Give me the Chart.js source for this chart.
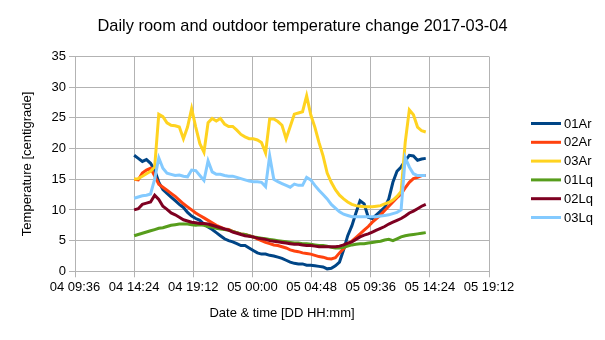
<!DOCTYPE html>
<html>
<head>
<meta charset="utf-8">
<title>Daily room and outdoor temperature change</title>
<script src="https://cdn.jsdelivr.net/npm/chart.js@4.4.1/dist/chart.umd.min.js"></script>
<style>
  body { margin: 0; background: #fff; }
  #wrap { width: 605px; height: 340px; }
</style>
</head>
<body>
<div id="wrap"><canvas id="tempChart"></canvas></div>
<script>
// Measurement times, DD HH:mm
const times = [
    '04 14:24', '04 14:44', '04 15:04', '04 15:24', '04 15:44', '04 16:04', '04 16:24', '04 16:44',
    '04 17:04', '04 17:24', '04 17:44', '04 18:04', '04 18:24', '04 18:44', '04 19:04', '04 19:24',
    '04 19:44', '04 20:04', '04 20:24', '04 20:44', '04 21:04', '04 21:24', '04 21:44', '04 22:04',
    '04 22:24', '04 22:44', '04 23:04', '04 23:24', '04 23:44', '05 00:04', '05 00:24', '05 00:44',
    '05 01:04', '05 01:24', '05 01:44', '05 02:04', '05 02:24', '05 02:44', '05 03:04', '05 03:24',
    '05 03:44', '05 04:04', '05 04:24', '05 04:44', '05 05:04', '05 05:24', '05 05:44', '05 06:04',
    '05 06:24', '05 06:44', '05 07:04', '05 07:24', '05 07:44', '05 08:04', '05 08:24', '05 08:44',
    '05 09:04', '05 09:24', '05 09:44', '05 10:04', '05 10:24', '05 10:44', '05 11:04', '05 11:24',
    '05 11:44', '05 12:04', '05 12:24', '05 12:44', '05 13:04', '05 13:24', '05 13:44', '05 14:04'
];

// Temperatures, centigrade
const ar01 = [
    18.9, 18.4, 17.9, 18.2, 17.6, 16.5, 14.5, 13.3, 12.7, 12.1, 11.5, 10.9, 10.4, 9.6, 9.0, 8.6,
    8.3, 7.7, 7.2, 6.8, 6.3, 5.8, 5.3, 5.0, 4.8, 4.5, 4.2, 4.2, 3.8, 3.4, 3.0, 2.8,
    2.8, 2.6, 2.5, 2.3, 2.1, 1.8, 1.5, 1.3, 1.2, 1.2, 1.0, 1.0, 0.9, 0.8, 0.7, 0.4,
    0.5, 0.9, 1.5, 3.5, 5.8, 7.4, 9.5, 11.5, 11.0, 8.8, 8.6, 9.2, 9.8, 10.4, 11.8, 14.5,
    16.3, 17.0, 18.0, 18.9, 18.8, 18.1, 18.3, 18.4
];
const ar02 = [
    15.0, 14.9, 16.0, 16.5, 16.8, 15.5, 14.2, 13.7, 13.2, 12.7, 12.2, 11.6, 11.0, 10.5, 10.0, 9.5,
    9.1, 8.7, 8.3, 7.9, 7.5, 7.2, 6.9, 6.8, 6.5, 6.3, 6.1, 6.0, 5.8, 5.6, 5.3, 5.0,
    4.7, 4.5, 4.3, 4.2, 4.0, 3.8, 3.5, 3.3, 3.2, 3.0, 2.9, 2.8, 2.6, 2.4, 2.3, 2.1,
    2.0, 2.2, 3.0, 3.7, 4.4, 4.9, 5.5, 6.1, 6.7, 7.3, 8.0, 8.6, 9.2, 9.9, 10.6, 11.3,
    12.0, 12.6, 13.6, 14.5, 15.1, 15.3, 15.6, 15.6
];
const ar03 = [
    15.0, 15.1, 15.5, 15.9, 16.3, 17.0, 25.6, 25.2, 24.2, 23.8, 23.7, 23.5, 21.6, 23.5, 26.5, 23.5,
    20.8, 19.4, 24.2, 24.9, 24.5, 24.9, 24.0, 23.6, 23.6, 23.0, 22.3, 21.9, 21.6, 21.6, 21.4, 21.0,
    19.3, 24.8, 24.8, 24.4, 23.8, 21.6, 23.6, 25.6, 25.8, 26.0, 28.6, 25.5, 23.5, 21.0, 18.8, 16.0,
    14.5, 13.3, 12.4, 11.8, 11.3, 10.9, 10.7, 10.6, 10.5, 10.5, 10.5, 10.6, 10.7, 11.0, 11.2, 11.6,
    12.2, 13.0, 21.0, 26.3, 25.5, 23.5, 22.9, 22.7
];
const lq01 = [
    5.8, 6.0, 6.2, 6.4, 6.6, 6.8, 7.0, 7.1, 7.3, 7.5, 7.6, 7.7, 7.7, 7.7, 7.6, 7.5,
    7.6, 7.5, 7.3, 7.2, 7.0, 6.9, 6.8, 6.7, 6.5, 6.3, 6.1, 6.0, 5.8, 5.6, 5.5, 5.4,
    5.3, 5.2, 5.1, 5.0, 4.9, 4.8, 4.7, 4.6, 4.6, 4.5, 4.5, 4.4, 4.3, 4.2, 4.2, 4.1,
    3.9, 3.8, 3.8, 3.9, 4.1, 4.3, 4.4, 4.5, 4.5, 4.6, 4.7, 4.8, 4.9, 5.1, 5.2, 5.0,
    5.3, 5.6, 5.8, 5.9, 6.0, 6.1, 6.2, 6.3
];
const lq02 = [
    10.0, 10.2, 10.9, 11.1, 11.3, 12.4, 11.7, 10.6, 10.1, 9.5, 9.2, 8.8, 8.4, 8.2, 8.0, 7.9,
    7.8, 7.8, 7.7, 7.5, 7.3, 7.1, 6.9, 6.7, 6.4, 6.2, 6.0, 5.8, 5.7, 5.6, 5.4, 5.3,
    5.2, 5.0, 4.9, 4.8, 4.7, 4.6, 4.5, 4.4, 4.4, 4.3, 4.2, 4.2, 4.1, 4.0, 4.0, 4.0,
    4.0, 4.0, 4.1, 4.3, 4.6, 4.8, 5.2, 5.6, 5.9, 6.1, 6.4, 6.7, 7.0, 7.3, 7.7, 8.0,
    8.3, 8.6, 9.0, 9.5, 9.8, 10.2, 10.6, 10.9
];
const lq03 = [
    11.9, 12.1, 12.3, 12.4, 12.6, 15.0, 18.5, 16.8, 16.0, 15.8, 15.6, 15.7, 15.5, 15.4, 16.5, 16.4,
    15.6, 14.8, 18.0, 16.2, 15.8, 15.8, 15.6, 15.5, 15.5, 15.3, 15.1, 14.9, 14.7, 14.6, 14.6, 14.5,
    13.8, 18.8, 15.0, 14.6, 14.3, 14.0, 13.7, 14.2, 14.0, 14.0, 15.3, 14.9, 14.0, 13.2, 12.5, 11.8,
    10.9, 10.3, 9.7, 9.3, 9.1, 8.9, 8.9, 8.9, 8.9, 8.9, 8.9, 8.9, 9.0, 9.1, 9.2, 9.4,
    9.6, 10.0, 18.5, 17.0, 15.9, 15.6, 15.6, 15.6
];

const seriesNames = ['01Ar', '02Ar', '03Ar', '01Lq', '02Lq', '03Lq'];
const seriesData = [ar01, ar02, ar03, lq01, lq02, lq03];
const seriesColors = ['#004586', '#ff420e', '#ffd320', '#579d1c', '#7e0021', '#83caff'];

// x axis: 04 09:36 .. 05 19:12, a tick every 4 h 48 min
const xMin = '04 09:36';
const xMax = '05 19:12';
const xStep = 288;

// 'DD HH:mm' -> minutes since day 04 00:00
function toMinutes(s) {
    const [dd, hm] = s.split(' ');
    const [hh, mm] = hm.split(':');
    return (parseInt(dd) - 4) * 1440 + parseInt(hh) * 60 + parseInt(mm);
}

function fmtTime(v) {
    const day = 4 + Math.floor(v / 1440);
    const rest = v - (day - 4) * 1440;
    const hh = Math.floor(rest / 60);
    const mm = Math.round(rest % 60);
    return String(day).padStart(2, '0') + ' ' + String(hh).padStart(2, '0') + ':' + String(mm).padStart(2, '0');
}

const FONT = '"Liberation Sans", Arial, sans-serif';
const GRID = '#b3b3b3';
Chart.defaults.font.family = FONT;
Chart.defaults.color = '#000';

// Legend drawn to the right of the plot, one short line per series
const sideLegend = {
    id: 'sideLegend',
    afterDraw(chart) {
        const ctx = chart.ctx;
        const x0 = chart.chartArea.right + 42;
        ctx.save();
        ctx.font = '13px ' + FONT;
        ctx.textBaseline = 'middle';
        ctx.fillStyle = '#000';
        chart.data.datasets.forEach((ds, i) => {
            const y = 123.5 + i * 18.8;
            ctx.strokeStyle = ds.borderColor;
            ctx.lineWidth = 3;
            ctx.beginPath();
            ctx.moveTo(x0, y);
            ctx.lineTo(x0 + 30, y);
            ctx.stroke();
            ctx.fillText(ds.label, x0 + 33, y + 0.5);
        });
        ctx.restore();
    }
};

const datasets = seriesNames.map((name, i) => ({
    label: name,
    data: times.map((t, k) => ({ x: toMinutes(t), y: seriesData[i][k] })),
    borderColor: seriesColors[i],
    backgroundColor: seriesColors[i],
    borderWidth: 3,
    pointRadius: 0,
    tension: 0,
    fill: false,
    order: seriesNames.length - i
}));

new Chart(document.getElementById('tempChart'), {
    type: 'line',
    data: { datasets: datasets },
    options: {
        responsive: true,
        maintainAspectRatio: false,
        animation: false,
        devicePixelRatio: 1,
        layout: { padding: 0 },
        plugins: {
            legend: { display: false },
            tooltip: { enabled: false },
            title: {
                display: true,
                text: 'Daily room and outdoor temperature change 2017-03-04',
                font: { size: 16.4, weight: 'normal' },
                color: '#000',
                padding: { top: 16.2, bottom: 20.6 }
            }
        },
        scales: {
            x: {
                type: 'linear',
                min: toMinutes(xMin),
                max: toMinutes(xMax),
                ticks: {
                    stepSize: xStep,
                    autoSkip: false,
                    maxRotation: 0,
                    padding: 2,
                    font: { size: 13 },
                    callback: v => fmtTime(v)
                },
                grid: { color: GRID, tickLength: 6, tickColor: GRID },
                border: { color: GRID },
                title: {
                    display: true,
                    text: 'Date & time [DD HH:mm]',
                    font: { size: 13 },
                    padding: { top: 19, bottom: 19 }
                },
                afterFit: s => { s.height = 340 - 271.3; }
            },
            y: {
                min: 0,
                max: 35,
                ticks: { stepSize: 5, padding: 3, font: { size: 13 } },
                grid: { color: GRID, tickLength: 6, tickColor: GRID },
                border: { color: GRID },
                title: {
                    display: true,
                    text: 'Temperature [centigrade]',
                    font: { size: 13 },
                    padding: { top: 20, bottom: 20 }
                },
                afterFit: s => { s.width = 75; }
            },
            // empty box on the right keeps room for the legend
            side: {
                position: 'right',
                display: true,
                ticks: { display: false },
                grid: { display: false, drawTicks: false },
                border: { display: false },
                afterFit: s => { s.width = 605 - 489; }
            }
        }
    },
    plugins: [sideLegend]
});
</script>
</body>
</html>
